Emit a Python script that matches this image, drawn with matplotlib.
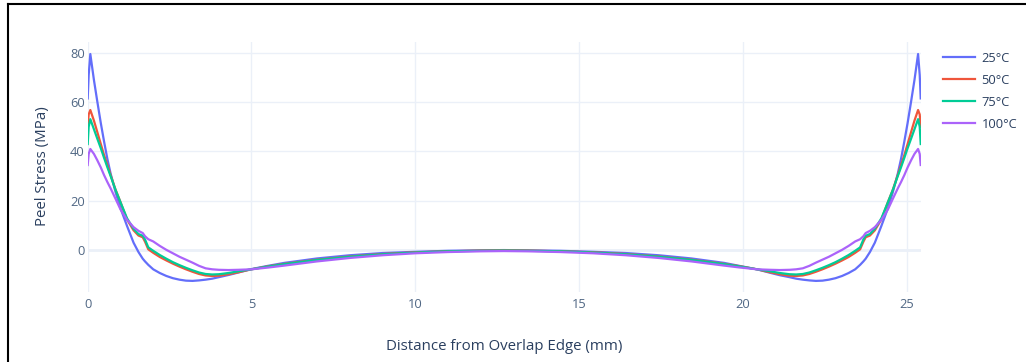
import matplotlib.pyplot as plt
from matplotlib.lines import Line2D

# distance from overlap edge (mm), shared by all four curves
x_mm = [0.0, 0.03, 0.08, 0.19, 0.29, 0.40, 0.50, 0.60, 0.70, 0.85,
        1.00, 1.20, 1.40, 1.55, 1.68, 1.75, 1.85, 2.00, 2.20, 2.40,
        2.60, 2.80, 3.00, 3.20, 3.40, 3.60, 3.80, 4.00, 4.30, 4.60,
        5.00, 5.50, 6.00, 7.00, 8.00, 9.00, 10.0, 11.0, 12.0, 12.7,
        13.43, 14.43, 15.43, 16.43, 17.43, 18.43, 19.43, 19.93, 20.43, 20.83,
        21.13, 21.43, 21.63, 21.83, 22.03, 22.23, 22.43, 22.63, 22.83, 23.03,
        23.23, 23.43, 23.58, 23.68, 23.75, 23.88, 24.03, 24.23, 24.43, 24.58,
        24.73, 24.83, 24.93, 25.03, 25.14, 25.24, 25.35, 25.40, 25.43]

# peel stress (MPa)
stress_25 = [61.5, 71, 79.5, 69, 60.5, 51.5, 44, 37, 31, 23.5,
             17, 9.8, 3.0, -0.8, -3.5, -4.6, -6.0, -7.8, -9.3, -10.5,
             -11.4, -12.0, -12.4, -12.5, -12.3, -12.0, -11.6, -11.0, -10.1, -9.1,
             -7.7, -6.4, -5.2, -3.4, -2.1, -1.2, -0.7, -0.3, -0.1, 0.0,
             -0.1, -0.3, -0.7, -1.2, -2.1, -3.4, -5.2, -6.5, -7.8, -9.2,
             -10.2, -11.0, -11.6, -12.0, -12.3, -12.5, -12.4, -12.0, -11.4, -10.5,
             -9.3, -7.8, -6.0, -4.6, -3.5, -0.8, 3.0, 9.8, 17, 23.5,
             31, 37, 44, 51.5, 60.5, 69, 79.5, 71, 61.5]
stress_50 = [50, 55, 56.8, 52.5, 48, 43, 38.5, 34.5, 30.4, 24.5,
             19.5, 12.4, 8.0, 5.9, 5.2, 3.4, 0.3, -1.1, -2.8, -4.2,
             -5.5, -6.7, -7.8, -8.8, -9.7, -10.3, -10.5, -10.4, -9.8, -9.0,
             -7.8, -6.6, -5.6, -3.9, -2.6, -1.6, -0.9, -0.5, -0.2, -0.1,
             -0.2, -0.5, -0.9, -1.6, -2.6, -3.9, -5.6, -6.6, -7.8, -9.0,
             -9.8, -10.4, -10.5, -10.3, -9.7, -8.8, -7.8, -6.7, -5.5, -4.2,
             -2.8, -1.1, 0.3, 3.4, 5.2, 5.9, 8.0, 12.4, 19.5, 24.5,
             30.4, 34.5, 38.5, 43, 48, 52.5, 56.8, 55, 50]
stress_75 = [43, 50, 53.1, 49, 45.3, 41.3, 37.4, 33.6, 30, 24.4,
             19.4, 12.9, 8.6, 6.5, 5.8, 4.3, 1.1, -0.3, -2.0, -3.5,
             -4.9, -6.1, -7.2, -8.2, -9.1, -9.7, -9.9, -9.8, -9.3, -8.6,
             -7.8, -6.7, -5.7, -4.0, -2.7, -1.7, -1.0, -0.5, -0.3, -0.2,
             -0.3, -0.5, -1.0, -1.7, -2.7, -4.0, -5.7, -6.7, -7.8, -8.6,
             -9.3, -9.8, -9.9, -9.7, -9.1, -8.2, -7.2, -6.1, -4.9, -3.5,
             -2.0, -0.3, 1.1, 4.3, 5.8, 6.5, 8.6, 12.9, 19.4, 24.4,
             30, 33.6, 37.4, 41.3, 45.3, 49, 53.1, 50, 43]
stress_100 = [34.5, 39, 41, 39, 36.5, 33.5, 30.4, 27.6, 25.0, 20.8,
              16.5, 12.3, 9.3, 7.8, 6.9, 5.6, 4.4, 3.5, 1.7, 0.1,
              -1.3, -2.7, -3.9, -5.1, -6.4, -7.4, -7.8, -8.0, -8.1, -8.0,
              -7.8, -7.1, -6.3, -4.6, -3.2, -2.1, -1.3, -0.8, -0.5, -0.4,
              -0.5, -0.8, -1.3, -2.1, -3.2, -4.6, -6.3, -7.1, -7.8, -8.0,
              -8.1, -8.0, -7.8, -7.4, -6.4, -5.1, -3.9, -2.7, -1.3, 0.1,
              1.7, 3.5, 4.4, 5.6, 6.9, 7.8, 9.3, 12.3, 16.5, 20.8,
              25.0, 27.6, 30.4, 33.5, 36.5, 39, 41, 39, 34.5]

series = [stress_25, stress_50, stress_75, stress_100]
labels = ['25°C', '50°C', '75°C', '100°C']
colors = ['#636efa', '#EF553B', '#00cc96', '#ab63fa']

x_ticks = [0, 5, 10, 15, 20, 25]
y_ticks = [0, 20, 40, 60, 80]

plt.rcParams['font.family'] = ['Open Sans', 'DejaVu Sans']
text_color = '#2a3f5f'
grid_color = '#EBF0F8'

W, H = 1026, 362
fig = plt.figure(figsize=(W / 100, H / 100), dpi=100)
fig.patch.set_facecolor('white')

# plot area in pixels (left, right, top, bottom)
pl, pr, pt, pb = 87.7, 920.7, 41.7, 291.5
ax = fig.add_axes([pl / W, 1 - pb / H, (pr - pl) / W, (pb - pt) / H])

for y, lab, c in zip(series, labels, colors):
    ax.plot(x_mm, y, color=c, linewidth=1.6, label=lab, solid_joinstyle='round')

ax.set_xlim(0, 25.43)
ax.set_ylim(-16.8, 84.5)
ax.set_xticks(x_ticks)
ax.set_yticks(y_ticks)
ax.grid(True, color=grid_color, linewidth=1)
ax.axhline(0, color=grid_color, linewidth=2, zorder=0.8)
ax.set_axisbelow(True)
for s in ax.spines.values():
    s.set_visible(False)
ax.tick_params(axis='both', length=0, labelsize=9.3, labelcolor='#506784')
ax.tick_params(axis='y', pad=2)
ax.tick_params(axis='x', pad=5)

fig.text((pl + pr) / 2 / W, 1 - 347 / H, 'Distance from Overlap Edge (mm)',
         ha='center', va='center', fontsize=10.8, color=text_color)
fig.text(42.5 / W, 1 - (pt + pb) / 2 / H, 'Peel Stress (MPa)', rotation=90,
         ha='center', va='center', fontsize=10.8, color=text_color)

ax.legend(loc='upper left', bbox_to_anchor=(943 / W, 1 - 51.5 / H),
          bbox_transform=fig.transFigure, frameon=False, fontsize=9.3,
          handlelength=2.5, handletextpad=0.47, labelspacing=0.7,
          borderpad=0, borderaxespad=0, labelcolor=text_color)

# black screenshot border on top and left
fig.add_artist(Line2D([7.5 / W, 1], [1 - 3.5 / H, 1 - 3.5 / H],
                      transform=fig.transFigure, color='black', linewidth=1.5))
fig.add_artist(Line2D([7.5 / W, 7.5 / W], [0, 1 - 3.5 / H],
                      transform=fig.transFigure, color='black', linewidth=1.5))

fig.savefig('out.png', dpi=100)
